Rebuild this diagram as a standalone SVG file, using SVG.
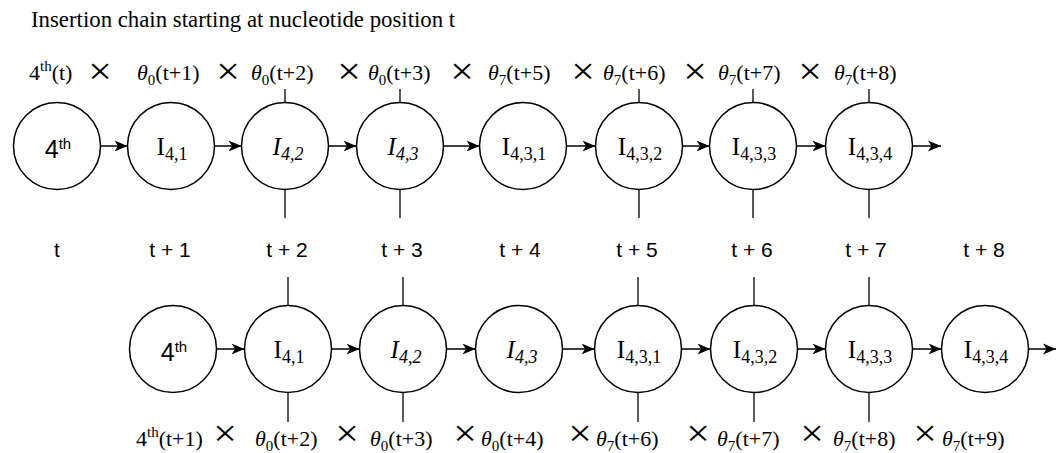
<svg xmlns="http://www.w3.org/2000/svg" width="1057" height="453" viewBox="0 0 1057 453">
<style>
.n{fill:#fff;stroke:#000;stroke-width:1.5}
.tk{stroke:#000;stroke-width:1.3}
.c{stroke:#000;stroke-width:1.5;fill:none}
.ser{font-family:"Liberation Serif","Times New Roman",serif;fill:#000}
.san{font-family:"Liberation Sans",Arial,sans-serif;fill:#000}
.lbl{font-size:25px;text-anchor:middle}
.f{font-size:22px}
.x{font-family:"Liberation Serif","Times New Roman",serif;font-size:38px;text-anchor:middle;fill:#000}
.tl{font-size:21px;text-anchor:middle}
.it{font-style:italic}
</style>
<defs>
<marker id="ah" markerUnits="userSpaceOnUse" markerWidth="14" markerHeight="14" viewBox="0 0 14 14" refX="13" refY="7" orient="auto">
<path d="M0,1.5 L13,7 L0,12.5 L3.5,7 Z" fill="#000"/>
</marker>
</defs>
<rect width="1057" height="453" fill="#fff"/>
<text class="ser" x="31" y="27" font-size="22.8">Insertion chain starting at nucleotide position t</text>

<g id="top-formula" class="ser f">
<text x="29" y="80">4<tspan font-size="15" dy="-9">th</tspan><tspan dy="9">(t)</tspan></text>
<text x="137" y="80"><tspan class="it">θ</tspan><tspan font-size="15" dy="5">0</tspan><tspan dy="-5">(t+1)</tspan></text>
<text x="251" y="80"><tspan class="it">θ</tspan><tspan font-size="15" dy="5">0</tspan><tspan dy="-5">(t+2)</tspan></text>
<text x="368" y="80"><tspan class="it">θ</tspan><tspan font-size="15" dy="5">0</tspan><tspan dy="-5">(t+3)</tspan></text>
<text x="488" y="80"><tspan class="it">θ</tspan><tspan font-size="15" dy="5">7</tspan><tspan dy="-5">(t+5)</tspan></text>
<text x="603" y="80"><tspan class="it">θ</tspan><tspan font-size="15" dy="5">7</tspan><tspan dy="-5">(t+6)</tspan></text>
<text x="718" y="80"><tspan class="it">θ</tspan><tspan font-size="15" dy="5">7</tspan><tspan dy="-5">(t+7)</tspan></text>
<text x="834" y="80"><tspan class="it">θ</tspan><tspan font-size="15" dy="5">7</tspan><tspan dy="-5">(t+8)</tspan></text>
</g>
<g id="top-times">
<text class="x" transform="translate(100,84) scale(1.1,1)">×</text>
<text class="x" transform="translate(228,84) scale(1.1,1)">×</text>
<text class="x" transform="translate(349,84) scale(1.1,1)">×</text>
<text class="x" transform="translate(462,84) scale(1.1,1)">×</text>
<text class="x" transform="translate(583,84) scale(1.1,1)">×</text>
<text class="x" transform="translate(695,84) scale(1.1,1)">×</text>
<text class="x" transform="translate(810,84) scale(1.1,1)">×</text>
</g>

<g id="connectors">
<line class="c" x1="100.5" y1="146" x2="127.5" y2="146" marker-end="url(#ah)"/>
<line class="c" x1="214.5" y1="146" x2="241.5" y2="146" marker-end="url(#ah)"/>
<line class="c" x1="328.5" y1="146" x2="356.5" y2="146" marker-end="url(#ah)"/>
<line class="c" x1="443.5" y1="146" x2="479.5" y2="146" marker-end="url(#ah)"/>
<line class="c" x1="566.5" y1="146" x2="595.5" y2="146" marker-end="url(#ah)"/>
<line class="c" x1="682.5" y1="146" x2="709.5" y2="146" marker-end="url(#ah)"/>
<line class="c" x1="796.5" y1="146" x2="825.5" y2="146" marker-end="url(#ah)"/>
<line class="c" x1="912.5" y1="146" x2="941" y2="146" marker-end="url(#ah)"/>

<line class="c" x1="216.5" y1="349" x2="244.5" y2="349" marker-end="url(#ah)"/>
<line class="c" x1="331.5" y1="349" x2="359.5" y2="349" marker-end="url(#ah)"/>
<line class="c" x1="446.5" y1="349" x2="475.5" y2="349" marker-end="url(#ah)"/>
<line class="c" x1="562.5" y1="349" x2="594.5" y2="349" marker-end="url(#ah)"/>
<line class="c" x1="681.5" y1="349" x2="710.5" y2="349" marker-end="url(#ah)"/>
<line class="c" x1="797.5" y1="349" x2="825.5" y2="349" marker-end="url(#ah)"/>
<line class="c" x1="912.5" y1="349" x2="941.5" y2="349" marker-end="url(#ah)"/>
<line class="c" x1="1028.5" y1="349" x2="1056" y2="349" marker-end="url(#ah)"/>

<line class="tk" x1="285" y1="89" x2="285" y2="102.5"/>
<line class="tk" x1="285" y1="189.5" x2="285" y2="218"/>
<line class="tk" x1="400" y1="89" x2="400" y2="102.5"/>
<line class="tk" x1="400" y1="189.5" x2="400" y2="218"/>
<line class="tk" x1="639" y1="89" x2="639" y2="102.5"/>
<line class="tk" x1="639" y1="189.5" x2="639" y2="218"/>
<line class="tk" x1="753" y1="89" x2="753" y2="102.5"/>
<line class="tk" x1="753" y1="189.5" x2="753" y2="218"/>
<line class="tk" x1="869" y1="89" x2="869" y2="102.5"/>
<line class="tk" x1="869" y1="189.5" x2="869" y2="218"/>

<line class="tk" x1="288" y1="277" x2="288" y2="305.5"/>
<line class="tk" x1="288" y1="392.5" x2="288" y2="422"/>
<line class="tk" x1="403" y1="277" x2="403" y2="305.5"/>
<line class="tk" x1="403" y1="392.5" x2="403" y2="422"/>
<line class="tk" x1="638" y1="277" x2="638" y2="305.5"/>
<line class="tk" x1="638" y1="392.5" x2="638" y2="422"/>
<line class="tk" x1="754" y1="277" x2="754" y2="305.5"/>
<line class="tk" x1="754" y1="392.5" x2="754" y2="422"/>
<line class="tk" x1="869" y1="277" x2="869" y2="305.5"/>
<line class="tk" x1="869" y1="392.5" x2="869" y2="422"/>
</g>

<g id="t-n1"><circle class="n" cx="57" cy="146" r="43.5"/><text class="san lbl" x="58" y="158" font-size="22">4<tspan font-size="15" dy="-9">th</tspan></text></g>
<g id="t-n2"><circle class="n" cx="171" cy="146" r="43.5"/><text class="ser lbl" x="172" y="155">I<tspan font-size="18" dy="5">4,1</tspan></text></g>
<g id="t-n3"><circle class="n" cx="285" cy="146" r="43.5"/><text class="ser lbl it" x="288" y="155">I<tspan font-size="18" dy="5">4,2</tspan></text></g>
<g id="t-n4"><circle class="n" cx="400" cy="146" r="43.5"/><text class="ser lbl it" x="403" y="155">I<tspan font-size="18" dy="5">4,3</tspan></text></g>
<g id="t-n5"><circle class="n" cx="523" cy="146" r="43.5"/><text class="ser lbl" x="524" y="155">I<tspan font-size="18" dy="5">4,3,1</tspan></text></g>
<g id="t-n6"><circle class="n" cx="639" cy="146" r="43.5"/><text class="ser lbl" x="640" y="155">I<tspan font-size="18" dy="5">4,3,2</tspan></text></g>
<g id="t-n7"><circle class="n" cx="753" cy="146" r="43.5"/><text class="ser lbl" x="754" y="155">I<tspan font-size="18" dy="5">4,3,3</tspan></text></g>
<g id="t-n8"><circle class="n" cx="869" cy="146" r="43.5"/><text class="ser lbl" x="870" y="155">I<tspan font-size="18" dy="5">4,3,4</tspan></text></g>

<g id="time-labels" class="san tl">
<text x="57" y="257">t</text>
<text x="170" y="257">t + 1</text>
<text x="287" y="257">t + 2</text>
<text x="402" y="257">t + 3</text>
<text x="520" y="257">t + 4</text>
<text x="637" y="257">t + 5</text>
<text x="752" y="257">t + 6</text>
<text x="866" y="257">t + 7</text>
<text x="984" y="257">t + 8</text>
</g>

<g id="b-n1"><circle class="n" cx="173" cy="349" r="43.5"/><text class="san lbl" x="174" y="361" font-size="22">4<tspan font-size="15" dy="-9">th</tspan></text></g>
<g id="b-n2"><circle class="n" cx="288" cy="349" r="43.5"/><text class="ser lbl" x="289" y="358">I<tspan font-size="18" dy="5">4,1</tspan></text></g>
<g id="b-n3"><circle class="n" cx="403" cy="349" r="43.5"/><text class="ser lbl it" x="406" y="358">I<tspan font-size="18" dy="5">4,2</tspan></text></g>
<g id="b-n4"><circle class="n" cx="519" cy="349" r="43.5"/><text class="ser lbl it" x="522" y="358">I<tspan font-size="18" dy="5">4,3</tspan></text></g>
<g id="b-n5"><circle class="n" cx="638" cy="349" r="43.5"/><text class="ser lbl" x="639" y="358">I<tspan font-size="18" dy="5">4,3,1</tspan></text></g>
<g id="b-n6"><circle class="n" cx="754" cy="349" r="43.5"/><text class="ser lbl" x="755" y="358">I<tspan font-size="18" dy="5">4,3,2</tspan></text></g>
<g id="b-n7"><circle class="n" cx="869" cy="349" r="43.5"/><text class="ser lbl" x="870" y="358">I<tspan font-size="18" dy="5">4,3,3</tspan></text></g>
<g id="b-n8"><circle class="n" cx="985" cy="349" r="43.5"/><text class="ser lbl" x="986" y="358">I<tspan font-size="18" dy="5">4,3,4</tspan></text></g>

<g id="bottom-formula" class="ser f">
<text x="136" y="446">4<tspan font-size="15" dy="-9">th</tspan><tspan dy="9">(t+1)</tspan></text>
<text x="255" y="446"><tspan class="it">θ</tspan><tspan font-size="15" dy="5">0</tspan><tspan dy="-5">(t+2)</tspan></text>
<text x="370" y="446"><tspan class="it">θ</tspan><tspan font-size="15" dy="5">0</tspan><tspan dy="-5">(t+3)</tspan></text>
<text x="481" y="446"><tspan class="it">θ</tspan><tspan font-size="15" dy="5">0</tspan><tspan dy="-5">(t+4)</tspan></text>
<text x="596" y="446"><tspan class="it">θ</tspan><tspan font-size="15" dy="5">7</tspan><tspan dy="-5">(t+6)</tspan></text>
<text x="717" y="446"><tspan class="it">θ</tspan><tspan font-size="15" dy="5">7</tspan><tspan dy="-5">(t+7)</tspan></text>
<text x="833" y="446"><tspan class="it">θ</tspan><tspan font-size="15" dy="5">7</tspan><tspan dy="-5">(t+8)</tspan></text>
<text x="942" y="446"><tspan class="it">θ</tspan><tspan font-size="15" dy="5">7</tspan><tspan dy="-5">(t+9)</tspan></text>
</g>
<g id="bottom-times">
<text class="x" transform="translate(225,446) scale(1.1,1)">×</text>
<text class="x" transform="translate(347,446) scale(1.1,1)">×</text>
<text class="x" transform="translate(465,446) scale(1.1,1)">×</text>
<text class="x" transform="translate(580,446) scale(1.1,1)">×</text>
<text class="x" transform="translate(698,446) scale(1.1,1)">×</text>
<text class="x" transform="translate(812,446) scale(1.1,1)">×</text>
<text class="x" transform="translate(925,446) scale(1.1,1)">×</text>
</g>
</svg>
